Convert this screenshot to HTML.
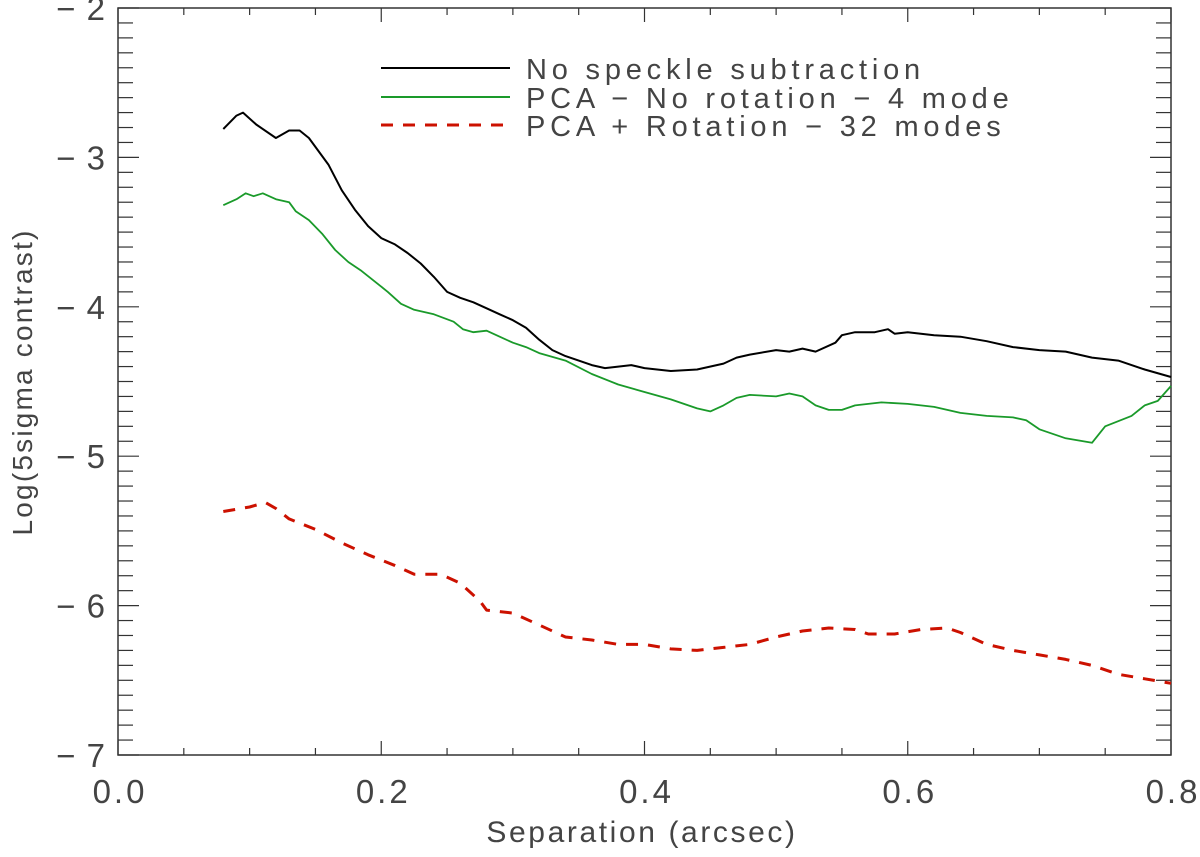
<!DOCTYPE html>
<html><head><meta charset="utf-8"><style>
body{margin:0;background:#fff}
svg{display:block}
text{font-family:"Liberation Sans",sans-serif;fill:#444}
</style></head><body>
<svg id="chart" width="1200" height="857" xmlns="http://www.w3.org/2000/svg">
<g id="axes"></g>
<g id="series"></g>
<g>
<line x1="381" y1="68" x2="510" y2="68" stroke="#000" stroke-width="2"/>
<text x="526" y="79" font-size="29" letter-spacing="4.8">No speckle subtraction</text>
<line x1="381" y1="97" x2="510" y2="97" stroke="#1a9a2a" stroke-width="2"/>
<text x="526" y="108" font-size="29" letter-spacing="4.8">PCA − No rotation − 4 mode</text>
<line x1="381" y1="125" x2="510" y2="125" stroke="#cc1100" stroke-width="3" stroke-dasharray="12,10"/>
<text x="526" y="136" font-size="29" letter-spacing="4.8">PCA + Rotation − 32 modes</text>
</g>
<text x="642" y="842" font-size="30" text-anchor="middle" letter-spacing="2.6">Separation (arcsec)</text>
<text transform="translate(32,382) rotate(-90)" font-size="28" text-anchor="middle" letter-spacing="2.2">Log(5sigma contrast)</text>
</svg>
<script>
const blackX=[0.08,0.09,0.095,0.105,0.12,0.13,0.138,0.145,0.16,0.17,0.18,0.19,0.2,0.21,0.22,0.23,0.24,0.25,0.26,0.27,0.28,0.29,0.30,0.31,0.32,0.33,0.34,0.35,0.36,0.37,0.38,0.39,0.40,0.42,0.44,0.46,0.47,0.48,0.5,0.51,0.52,0.53,0.545,0.55,0.56,0.575,0.585,0.59,0.6,0.62,0.64,0.66,0.68,0.70,0.72,0.74,0.76,0.78,0.8];
const blackY=[-2.81,-2.72,-2.70,-2.78,-2.87,-2.82,-2.82,-2.87,-3.05,-3.22,-3.35,-3.46,-3.54,-3.58,-3.64,-3.71,-3.80,-3.90,-3.94,-3.97,-4.01,-4.05,-4.09,-4.14,-4.22,-4.29,-4.33,-4.36,-4.39,-4.41,-4.40,-4.39,-4.41,-4.43,-4.42,-4.38,-4.34,-4.32,-4.29,-4.30,-4.28,-4.30,-4.24,-4.19,-4.17,-4.17,-4.15,-4.18,-4.17,-4.19,-4.20,-4.23,-4.27,-4.29,-4.30,-4.34,-4.36,-4.42,-4.47];
const greenX=[0.08,0.09,0.097,0.103,0.11,0.12,0.13,0.135,0.145,0.155,0.165,0.175,0.185,0.195,0.205,0.215,0.225,0.24,0.255,0.262,0.27,0.28,0.29,0.30,0.31,0.32,0.34,0.36,0.38,0.40,0.42,0.44,0.45,0.46,0.47,0.48,0.50,0.51,0.52,0.53,0.54,0.55,0.56,0.58,0.60,0.62,0.64,0.66,0.68,0.69,0.70,0.72,0.74,0.75,0.77,0.78,0.79,0.8];
const greenY=[-3.32,-3.28,-3.24,-3.26,-3.24,-3.28,-3.30,-3.36,-3.42,-3.51,-3.62,-3.70,-3.76,-3.83,-3.90,-3.98,-4.02,-4.05,-4.10,-4.15,-4.17,-4.16,-4.20,-4.24,-4.27,-4.31,-4.36,-4.45,-4.52,-4.57,-4.62,-4.68,-4.70,-4.66,-4.61,-4.59,-4.60,-4.58,-4.60,-4.66,-4.69,-4.69,-4.66,-4.64,-4.65,-4.67,-4.71,-4.73,-4.74,-4.76,-4.82,-4.88,-4.91,-4.80,-4.73,-4.66,-4.63,-4.53];
const redX=[0.08,0.1,0.112,0.12,0.13,0.15,0.17,0.19,0.21,0.225,0.245,0.26,0.275,0.28,0.30,0.32,0.34,0.36,0.38,0.40,0.42,0.44,0.46,0.48,0.50,0.52,0.54,0.56,0.57,0.59,0.61,0.63,0.64,0.66,0.68,0.70,0.72,0.74,0.76,0.78,0.8];
const redY=[-5.37,-5.34,-5.31,-5.35,-5.42,-5.49,-5.58,-5.66,-5.73,-5.79,-5.79,-5.85,-5.97,-6.03,-6.05,-6.13,-6.21,-6.23,-6.26,-6.26,-6.29,-6.30,-6.28,-6.26,-6.21,-6.17,-6.15,-6.16,-6.19,-6.19,-6.16,-6.15,-6.18,-6.26,-6.30,-6.33,-6.36,-6.40,-6.46,-6.49,-6.52];
const xTickLabels=["0.0","0.2","0.4","0.6","0.8"];
const yTickLabels=["-2","-3","-4","-5","-6","-7"];

const NS="http://www.w3.org/2000/svg";
const L=118,R=1171,T=8,B=755;
const xs=v=>L+(v-0)/(0.8)*(R-L);
const ys=v=>T+(-2-v)/5*(B-T);
function mk(tag,attrs,parent){const e=document.createElementNS(NS,tag);for(const k in attrs)e.setAttribute(k,attrs[k]);parent.appendChild(e);return e;}
const ax=document.getElementById('axes');
const frame=mk('rect',{x:L,y:T,width:R-L,height:B-T,fill:'none',stroke:'#333','stroke-width':1.5},ax);


for(let i=0;i<=16;i++){const v=i*0.05,x=xs(v),len=i%4===0?14:7;
 mk('line',{x1:x,y1:B,x2:x,y2:B-len,stroke:'#333','stroke-width':1.2},ax);
 mk('line',{x1:x,y1:T,x2:x,y2:T+len,stroke:'#333','stroke-width':1.2},ax);}
for(let i=0;i<=50;i++){const v=-2-i*0.1,y=ys(v),len=i%10===0?21:15;
 mk('line',{x1:L,y1:y,x2:L+len,y2:y,stroke:'#333','stroke-width':1.2},ax);
 mk('line',{x1:R,y1:y,x2:R-len,y2:y,stroke:'#333','stroke-width':1.2},ax);}
xTickLabels.forEach(s=>{const t=mk('text',{x:xs(parseFloat(s))+2,y:803,'font-size':33,'text-anchor':'middle','letter-spacing':3},ax);t.textContent=s;
 
 });
yTickLabels.forEach(s=>{const t=mk('text',{x:106,y:ys(parseFloat(s))+12,'font-size':33,'text-anchor':'end','letter-spacing':1},ax);t.textContent=s.replace('-','− ');
 
 });
const sg=document.getElementById('series');
function line(X,Y,col,w,dash,name){const d=X.map((x,i)=>(i?'L':'M')+xs(x).toFixed(1)+','+ys(Y[i]).toFixed(1)).join('');
 const p=mk('path',{d:d,fill:'none',stroke:col,'stroke-width':w,'stroke-linejoin':'round'},sg);if(dash)p.setAttribute('stroke-dasharray',dash);
 
 }
line(blackX,blackY,'#000',2,null,'line-no-subtraction');
line(greenX,greenY,'#1a9a2a',1.8,null,'line-pca-no-rotation');
line(redX,redY,'#cc1100',3,'12,10','line-pca-rotation');
</script>
</body></html>
